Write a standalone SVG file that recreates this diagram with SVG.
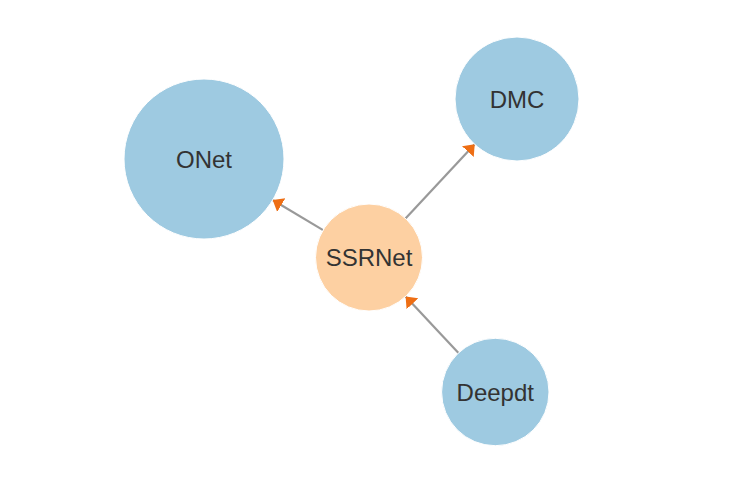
<svg xmlns="http://www.w3.org/2000/svg" width="742" height="482" viewBox="0 0 742 482">
<style>
.link{stroke:#999;stroke-width:2.2;fill:none}
.node circle{stroke:#fff;stroke-width:1}
.blue{fill:#9ecae1}
.orange{fill:#fdd0a2}
.node text{font-family:"Liberation Sans",Arial,sans-serif;font-size:24px;fill:#333;text-anchor:middle}
</style>
<defs>
<marker id="arrow" markerUnits="userSpaceOnUse" markerWidth="12" markerHeight="18" viewBox="0 -9 12 18" refX="10" refY="0" orient="auto">
<path d="M0,-8L10,0L0,8Z" fill="#ee6e14"/>
</marker>
</defs>
<rect width="742" height="482" fill="#fff"/>
<g id="links">
<line class="link" x1="323.1" y1="230.1" x2="272.7" y2="200" marker-end="url(#arrow)"/>
<line class="link" x1="405.5" y1="218.4" x2="474.7" y2="144.3" marker-end="url(#arrow)"/>
<line class="link" x1="458.5" y1="352.9" x2="405.6" y2="296.5" marker-end="url(#arrow)"/>
</g>
<g id="node-onet" class="node">
<circle class="blue" cx="204" cy="159" r="80"/>
<text x="204" y="167.5">ONet</text>
</g>
<g id="node-dmc" class="node">
<circle class="blue" cx="517" cy="99" r="62"/>
<text x="517" y="107.5">DMC</text>
</g>
<g id="node-ssrnet" class="node">
<circle class="orange" cx="369" cy="257.5" r="53.5"/>
<text x="369" y="266">SSRNet</text>
</g>
<g id="node-deepdt" class="node">
<circle class="blue" cx="495.3" cy="392" r="53.7"/>
<text x="495.3" y="400.5">Deepdt</text>
</g>
</svg>
